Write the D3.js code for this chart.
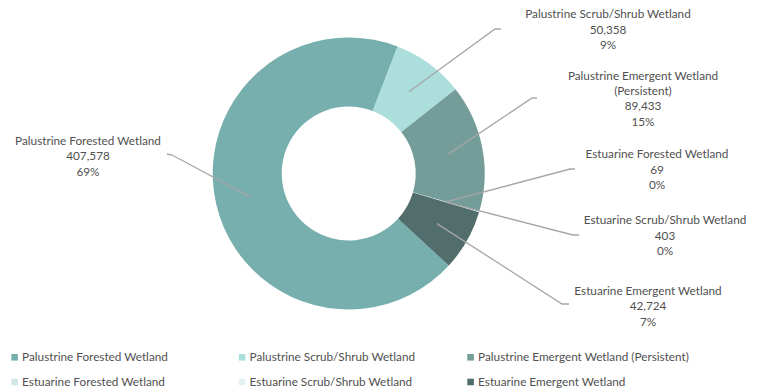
<!DOCTYPE html>
<html>
<head>
<meta charset="utf-8">
<script src="https://cdn.jsdelivr.net/npm/d3@7"></script>
<style>
  html, body { margin: 0; padding: 0; background: #fff; }
  svg { display: block; }
  text { font-family: Lato, "Open Sans", sans-serif; font-size: 11.75px; fill: #505050; }
</style>
</head>
<body>
<svg id="chart" width="762" height="391"></svg>
<script>
// Wetland acreage by class
const categories = [
  "Palustrine Forested Wetland",
  "Palustrine Scrub/Shrub Wetland",
  "Palustrine Emergent Wetland (Persistent)",
  "Estuarine Forested Wetland",
  "Estuarine Scrub/Shrub Wetland",
  "Estuarine Emergent Wetland"
];
const acres = [407578, 50358, 89433, 69, 403, 42724];
const percentLabels = ["69%", "9%", "15%", "0%", "0%", "7%"];
const colors = ["#76AFAD", "#ACDEDB", "#749D99", "#D1E8E6", "#E3F1F2", "#526E6C"];

// Data-label text lines (long names wrap as they do in the callouts)
const labelNameLines = [
  ["Palustrine Forested Wetland"],
  ["Palustrine Scrub/Shrub Wetland"],
  ["Palustrine Emergent Wetland", "(Persistent)"],
  ["Estuarine Forested Wetland"],
  ["Estuarine Scrub/Shrub Wetland"],
  ["Estuarine Emergent Wetland"]
];

// Callout placement: label centre x, first line y, leader elbow and tip
const labelLayout = [
  { x: 88,  y: 140.7, elbow: [172, 155], tip: [167, 154] },
  { x: 608, y: 14,    elbow: [495, 29],  tip: [501, 29] },
  { x: 643, y: 75.5,  elbow: [532, 98],  tip: [537, 98] },
  { x: 657, y: 154,   elbow: [570, 169], tip: [575, 169] },
  { x: 665, y: 220,   elbow: [573, 235], tip: [579, 235] },
  { x: 648, y: 290.7, elbow: [562, 304], tip: [569, 304] }
];

const svg = d3.select("#chart");
const cx = 348.7, cy = 173.5;
const outerR = 136, innerR = 67;
const lineH = 15.4;

const firstAngle = 132.6 * Math.PI / 180;
const pie = d3.pie()
  .sort(null)
  .value(d => d)
  .startAngle(firstAngle)
  .endAngle(firstAngle + 2 * Math.PI);

const arc = d3.arc().innerRadius(innerR).outerRadius(outerR);
const arcs = pie(acres);

const g = svg.append("g").attr("transform", `translate(${cx},${cy})`);

g.selectAll("path.slice")
  .data(arcs)
  .join("path")
  .attr("class", "slice")
  .attr("d", arc)
  .attr("fill", (d, i) => colors[i]);

// Leader lines from each ring centroid to its callout
const fmt = d3.format(",");
svg.append("g").selectAll("polyline")
  .data(arcs)
  .join("polyline")
  .attr("points", (d, i) => {
    const c = arc.centroid(d);
    const L = labelLayout[i];
    return [[cx + c[0], cy + c[1]], L.elbow, L.tip].map(p => p.join(",")).join(" ");
  })
  .attr("fill", "none")
  .attr("stroke", "#A6A6A6")
  .attr("stroke-width", 1.3);

// Callout text: name, value, percent
const labels = svg.append("g").selectAll("text.callout")
  .data(arcs)
  .join("text")
  .attr("class", "callout")
  .attr("text-anchor", "middle");

labels.each(function (d, i) {
  const L = labelLayout[i];
  const lines = labelNameLines[i].concat([fmt(acres[i]), percentLabels[i]]);
  d3.select(this).selectAll("tspan")
    .data(lines)
    .join("tspan")
    .attr("x", L.x)
    .attr("y", (t, j) => L.y + j * lineH)
    .attr("dy", "0.35em")
    .text(t => t);
});

// Legend: three columns, two rows
const legendX = [11.3, 238.8, 467.3];
const legendY = [357.3, 382];
const legend = svg.append("g").selectAll("g.item")
  .data(categories)
  .join("g")
  .attr("class", "item")
  .attr("transform", (d, i) => `translate(${legendX[i % 3]},${legendY[Math.floor(i / 3)]})`);

legend.append("rect")
  .attr("x", 0).attr("y", -3.3)
  .attr("width", 6.6).attr("height", 6.6)
  .attr("fill", (d, i) => colors[i]);

legend.append("text")
  .attr("x", 10.8)
  .attr("y", 0)
  .attr("dy", "0.35em")
  .text(d => d);
</script>
</body>
</html>
